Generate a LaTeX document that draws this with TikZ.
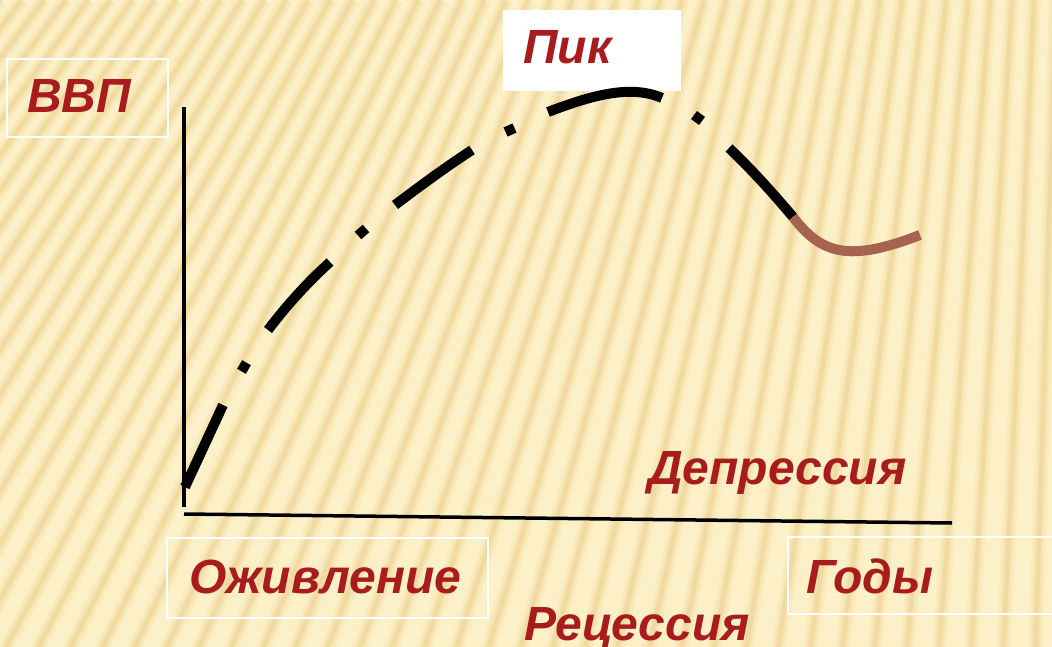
\documentclass[tikz,border=0pt]{standalone}
\usepackage{fontspec}
\setmainfont{Liberation Sans}
\definecolor{bgbase}{RGB}{252,240,200}
\definecolor{bgsoftA}{RGB}{249,234,188}
\definecolor{bgsoftB}{RGB}{245,226,174}
\definecolor{bgstripe}{RGB}{240,218,160}
\definecolor{lblred}{RGB}{168,28,30}
\definecolor{brownline}{RGB}{166,99,79}
\begin{document}
\begin{tikzpicture}[x=1pt,y=-1pt,
  lbl/.style={font=\fontsize{48}{50}\selectfont\bfseries\itshape, text=lblred, inner sep=0pt, anchor=base west},
  wbox/.style={draw=white, line width=2pt},
  axisline/.style={line width=3.5pt, black},
  curveseg/.style={line width=10pt, black},
  brownseg/.style={line width=10pt, brownline}]
\useasboundingbox (0,0) rectangle (1052,647);
% background
\begin{scope}
\clip (0,0) rectangle (1052,647);
\fill[bgbase] (0,0) rectangle (1052,647);
\foreach \i in {-4,...,62}{
  \pgfmathsetmacro{\xt}{\i*22}
  \pgfmathsetmacro{\xb}{1100+(\xt-1100)*1.5}
  \draw[bgsoftA, line width=14pt] (\xt,0) -- (\xb,700);
  \draw[bgsoftB, line width=8pt] (\xt,0) -- (\xb,700);
  \draw[bgstripe, line width=4pt] (\xt,0) -- (\xb,700);
}
\end{scope}
% boxes
\draw[wbox] (7,59) rectangle (168,137);
\fill[white] (503,10) rectangle (681,91);
\draw[wbox] (167,538) rectangle (488,618);
\draw[wbox] (788,537) rectangle (1062,614);
% axes
\coordinate (yt) at (184,107);
\coordinate (yb) at (184,507);
\coordinate (xl) at (184,514);
\coordinate (xr) at (952,523);
\draw[axisline] (yt) -- (yb);
\draw[axisline] (xl) -- (xr);
% curve dashes
\draw[curveseg] (185,487) -- (223,405);
\draw[curveseg] (241.5,371.3) -- (246.5,362.7);
\draw[curveseg] (268,330) .. controls (287,305) and (307,283) .. (330,262);
\draw[curveseg] (358,235.5) -- (366,228.5);
\draw[curveseg] (395,205) .. controls (420,186) and (446,167) .. (472,150);
\draw[curveseg] (505.5,132) -- (514.5,128);
\draw[curveseg] (548,112) .. controls (590,96) and (630,84) .. (662,98);
\draw[curveseg] (694,115) -- (702,121);
\draw[curveseg] (729,148) .. controls (752,170) and (772,192) .. (793,217);
\draw[brownseg] (793,217) .. controls (822,255) and (850,262) .. (920,235);
% labels
\node[lbl] (gdp) at (27,113) {ВВП};
\node[lbl] (peak) at (523,64) {Пик};
\node[lbl] (rev) at (189,593) {Оживление};
\node[lbl] (dep) at (648,484) {Депрессия};
\node[lbl] (rec) at (524,640) {Рецессия};
\node[lbl] (yrs) at (806,593) {Годы};
\end{tikzpicture}
\end{document}
